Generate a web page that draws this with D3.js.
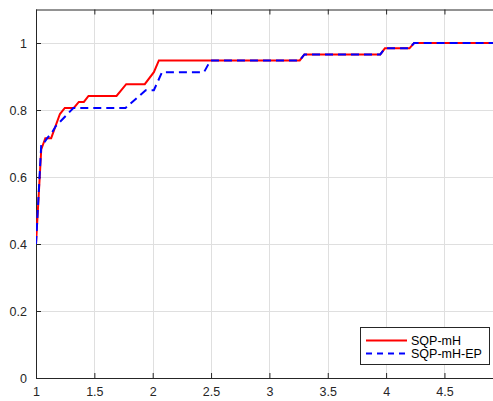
<!DOCTYPE html>
<html><head><meta charset="utf-8">
<script src="https://cdn.jsdelivr.net/npm/d3@7"></script>
<style>body{margin:0;background:#fff}svg{display:block}text{font-family:"Liberation Sans",Arial,sans-serif}</style>
</head><body><div id="c"></div>
<script>
const xTicks = [1, 1.5, 2, 2.5, 3, 3.5, 4, 4.5];
const xTickLabels = ["1", "1.5", "2", "2.5", "3", "3.5", "4", "4.5"];
const yTicks = [0, 0.2, 0.4, 0.6, 0.8, 1];
const yTickLabels = ["0", "0.2", "0.4", "0.6", "0.8", "1"];
const seriesNames = ["SQP-mH", "SQP-mH-EP"];
const redX = [1.0, 1.045, 1.08, 1.13, 1.205, 1.247, 1.324, 1.367, 1.41, 1.45, 1.69, 1.773, 1.932, 2.01, 2.053, 3.26, 3.30, 3.95, 3.99, 4.20, 4.24, 5.0];
const redY = [0.4, 0.682, 0.716, 0.716, 0.788, 0.806, 0.806, 0.824, 0.824, 0.842, 0.842, 0.877, 0.877, 0.913, 0.948, 0.948, 0.966, 0.966, 0.984, 0.984, 1.0, 1.0];
const blueX = [1.0, 1.045, 1.06, 1.096, 1.139, 1.17, 1.32, 1.367, 1.767, 1.94, 2.01, 2.08, 2.44, 2.495, 3.26, 3.30, 3.95, 3.99, 4.20, 4.24, 5.0];
const blueY = [0.4, 0.697, 0.697, 0.716, 0.734, 0.752, 0.806, 0.806, 0.806, 0.859, 0.859, 0.913, 0.913, 0.948, 0.948, 0.966, 0.966, 0.984, 0.984, 1.0, 1.0];

const W = 493, H = 401;
const L = 36, T = 9.5, B = 378;
const svg = d3.select("#c").append("svg").attr("width", W).attr("height", H);
const x = d3.scaleLinear().domain([1, 5]).range([L, L + 4 * 116.7]);
const y = d3.scaleLinear().domain([0, 1.1]).range([B, T]);
const axisCol = "#262626";

// grid
svg.append("g").selectAll("line").data(xTicks.slice(1)).join("line")
  .attr("x1", d => Math.round(x(d)) + 0.5).attr("x2", d => Math.round(x(d)) + 0.5)
  .attr("y1", T).attr("y2", B).attr("stroke", "#dfdfdf").attr("stroke-width", 1);
svg.append("g").selectAll("line").data(yTicks.slice(1)).join("line")
  .attr("y1", d => Math.round(y(d)) + 0.5).attr("y2", d => Math.round(y(d)) + 0.5)
  .attr("x1", L).attr("x2", W).attr("stroke", "#dfdfdf").attr("stroke-width", 1);

// axes via d3
const xb = d3.axisBottom(x).tickValues(xTicks).tickFormat((d, i) => xTickLabels[i]).tickSizeInner(-5).tickSizeOuter(0).tickPadding(9);
const gx = svg.append("g").attr("transform", `translate(0,${B})`).call(xb);
const xt = d3.axisTop(x).tickValues(xTicks).tickFormat("").tickSizeInner(-5).tickSizeOuter(0);
const gxt = svg.append("g").attr("transform", `translate(0,${T})`).call(xt);
const yl = d3.axisLeft(y).tickValues(yTicks).tickFormat((d, i) => yTickLabels[i]).tickSizeInner(-5).tickSizeOuter(0).tickPadding(9);
const gy = svg.append("g").attr("transform", `translate(${L},0)`).call(yl);
[gx, gxt, gy].forEach(g => {
  g.selectAll("path").attr("stroke", axisCol);
  g.selectAll("line").attr("stroke", axisCol);
  g.selectAll("text").attr("fill", axisCol).style("font-size", "12.5px").style("font-family", '"Liberation Sans",Arial,sans-serif');
});
gx.select("path").attr("d", `M${L},0.5H${W}`);
gxt.select("path").attr("d", `M${L},0.5H${W}`);

// lines
const line = d3.line().x(d => x(d[0])).y(d => y(d[1]));
const redData = redX.map((v, i) => [v, redY[i]]);
const blueData = blueX.map((v, i) => [v, blueY[i]]);
const clip = svg.append("clipPath").attr("id", "cp").append("rect").attr("x", L).attr("y", T - 2).attr("width", W - L).attr("height", B - T + 2);
svg.append("path").datum(redData).attr("d", line).attr("fill", "none").attr("stroke", "#ff0000").attr("stroke-width", 2).attr("clip-path", "url(#cp)");
svg.append("path").datum(blueData).attr("d", line).attr("fill", "none").attr("stroke", "#0000ff").attr("stroke-width", 2).attr("stroke-dasharray", "8,5").attr("clip-path", "url(#cp)");

// legend
const lg = svg.append("g");
lg.append("rect").attr("x", 360.5).attr("y", 327.5).attr("width", 129).attr("height", 37).attr("fill", "#fff").attr("stroke", axisCol).attr("stroke-width", 1);
const cols = ["#ff0000", "#0000ff"];
seriesNames.forEach((n, i) => {
  const yy = 340.5 + i * 13;
  lg.append("line").attr("x1", 366).attr("x2", 407).attr("y1", yy).attr("y2", yy)
    .attr("stroke", cols[i]).attr("stroke-width", 2).attr("stroke-dasharray", i ? "6,5" : null);
  lg.append("text").attr("x", 411).attr("y", yy).attr("dy", "0.35em").attr("fill", "#000").style("font-size", "12.5px").text(n);
});
</script></body></html>
